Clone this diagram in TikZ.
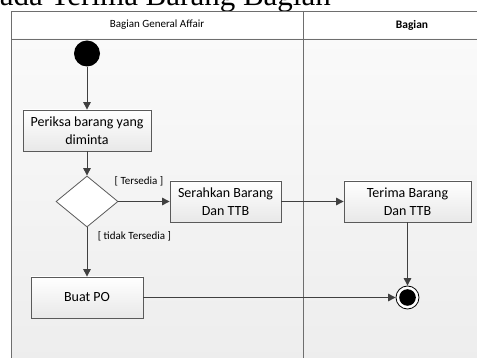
\documentclass[tikz,border=0pt]{standalone}
\usepackage{fontspec}
\setmainfont{Carlito}
\newfontfamily\titlefont{Liberation Serif}
\usetikzlibrary{arrows.meta,shapes.geometric,shadows}
\definecolor{linec}{HTML}{404040}
\definecolor{boxline}{HTML}{5A5A5A}
\definecolor{laneline}{HTML}{6E6E6E}
\begin{document}
\begin{tikzpicture}[x=1pt,y=-1pt,
  act/.style={draw=boxline, line width=0.8pt, top color=white, bottom color=black!9,
    minimum height=41pt, align=center, inner sep=2pt,
    font=\fontsize{14}{18}\selectfont,
    drop shadow={shadow xshift=1.2pt, shadow yshift=-1.2pt, opacity=0.25, fill=black}},
  decision/.style={diamond, draw=boxline, line width=0.8pt, fill=white,
    minimum width=62pt, minimum height=51pt, inner sep=0pt},
  startnode/.style={circle, fill=black, minimum size=26pt, inner sep=0pt},
  finalnode/.style={circle, draw=black, fill=white, line width=0.8pt, minimum size=23pt, inner sep=0pt},
  flow/.style={draw=linec, line width=1pt, -{Triangle[length=7.5pt,width=7.5pt]}},
  lbl/.style={font=\fontsize{11}{13}\selectfont, inner sep=0pt},
  lanehead/.style={font=\fontsize{11}{13}\selectfont, inner sep=0pt}
]
\useasboundingbox (0,0) rectangle (477,358);
\clip (0,0) rectangle (477,358);
% title (cut off at the top)
\node[anchor=base east, inner sep=0pt, font=\titlefont\fontsize{31}{31}\selectfont] (title) at (331,6) {Pada Terima Barang Bagian};
% swimlanes
\fill[white] (11.5,11) rectangle (480,39);
\shade[top color=black!2, bottom color=black!7] (11.5,39) rectangle (480,360);
\draw[laneline, line width=0.8pt] (11.5,360) -- (11.5,11) -- (480,11);
\draw[laneline, line width=0.8pt] (11.5,39) -- (480,39);
\draw[laneline, line width=0.8pt] (303,11) -- (303,360);
\node[lanehead] (h1) at (157,25) {Bagian General Affair};
\node[lanehead, font=\fontsize{11.5}{13}\selectfont\bfseries] (h2) at (412,25) {Bagian};
% nodes
\node[startnode] (s) at (87,53.5) {};
\node[act, minimum width=128pt] (periksa) at (87,130.5) {Periksa barang yang\\diminta};
\node[decision] (d) at (87,201.5) {};
\node[act, minimum width=111pt] (serah) at (225.5,201.5) {Serahkan Barang\\Dan TTB};
\node[act, minimum width=127pt] (terima) at (407.5,201.5) {Terima Barang\\Dan TTB};
\node[act, minimum width=112pt] (po) at (87,297.5) {Buat PO};
\node[finalnode] (f) at (407.5,297.5) {};
\fill[black] (f.center) circle (8.3pt);
\node[lbl] (l1) at (139,181.5) {[ Tersedia ]};
\node[lbl] (l2) at (134.5,236) {[ tidak Tersedia ]};
% connectors
\draw[flow] (s) -- (periksa);
\draw[flow] (periksa) -- (d);
\draw[flow] (d) -- (serah);
\draw[flow] (d) -- (po);
\draw[flow] (serah) -- (terima);
\draw[flow] (terima) -- (f);
\draw[flow] (po) -- (f);
\end{tikzpicture}
\end{document}
